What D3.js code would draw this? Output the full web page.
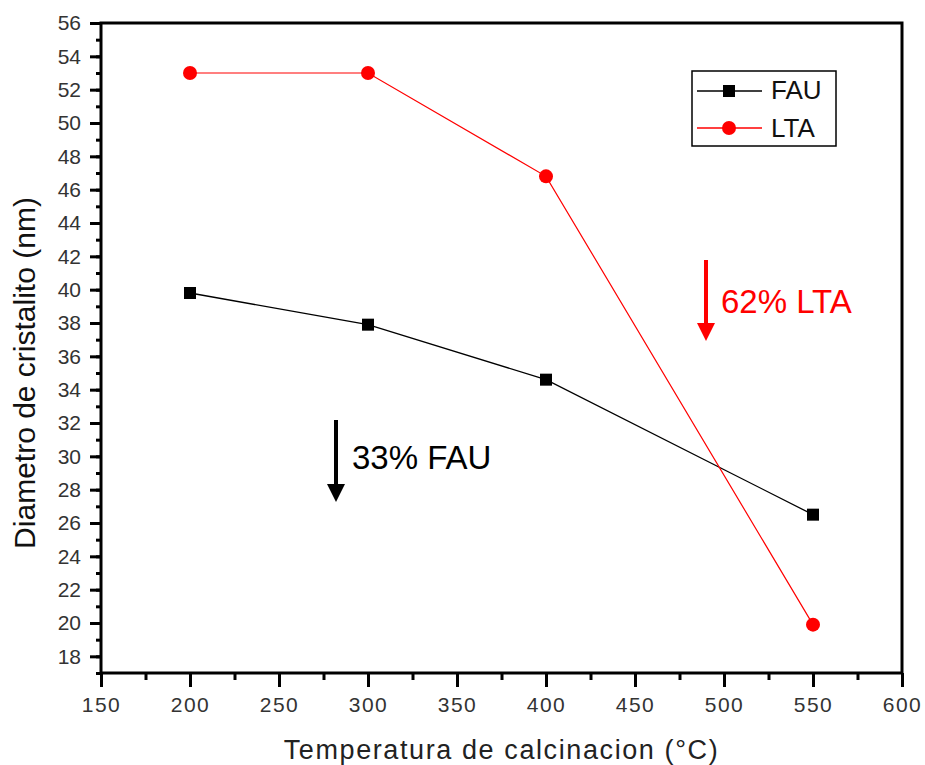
<!DOCTYPE html>
<html lang="en">
<head>
<meta charset="UTF-8">
<title>Diametro de cristalito</title>
<style>
    body { margin: 0; background: #fff; }
    svg text { font-family: 'Liberation Sans', Arial, sans-serif; }
    .tick text { fill: #333; font-size: 21px; }
</style>
</head>
<body>
<div id="chart"></div>
<script src="https://d3js.org/d3.v7.min.js"></script>
<script>
    const temps = [200, 300, 400, 550];
    const fau = [39.8, 37.9, 34.6, 26.5];
    const lta = [53.0, 53.0, 46.8, 19.9];
    const xTicks = [150, 200, 250, 300, 350, 400, 450, 500, 550, 600];
    const yTicks = d3.range(18, 57, 2);

    const width = 925, height = 765;
    const margin = { top: 23, right: 23, bottom: 92, left: 101 };

    const svg = d3.select("#chart").append("svg")
        .attr("width", width)
        .attr("height", height);

    const x = d3.scaleLinear().domain([150, 600]).range([margin.left, width - margin.right]);
    const y = d3.scaleLinear().domain([17, 56]).range([height - margin.bottom, margin.top]);

    // frame
    svg.append("rect")
        .attr("x", x(150)).attr("y", y(56))
        .attr("width", x(600) - x(150)).attr("height", y(17) - y(56))
        .attr("fill", "none").attr("stroke", "#000").attr("stroke-width", 3);

    // x axis
    const gx = svg.append("g").attr("transform", `translate(0,${y(17)})`);
    gx.call(d3.axisBottom(x).tickValues(d3.range(150, 601, 25)).tickSize(7).tickFormat(""))
        .call(g => g.select(".domain").remove())
        .selectAll("line").attr("stroke-width", 3);
    gx.append("g").call(d3.axisBottom(x).tickValues(xTicks).tickSize(14).tickPadding(10))
        .call(g => g.select(".domain").remove())
        .call(g => g.selectAll("line").attr("stroke-width", 3))
        .call(g => g.selectAll("text").style("letter-spacing", "1.5px"));

    // y axis
    const gy = svg.append("g").attr("transform", `translate(${x(150)},0)`);
    gy.call(d3.axisLeft(y).tickValues(d3.range(17, 57, 1)).tickSize(5).tickFormat(""))
        .call(g => g.select(".domain").remove())
        .selectAll("line").attr("stroke-width", 3);
    gy.append("g").call(d3.axisLeft(y).tickValues(yTicks).tickSize(11).tickPadding(9))
        .call(g => g.select(".domain").remove())
        .call(g => g.selectAll("line").attr("stroke-width", 3));

    // axis titles
    svg.append("text")
        .attr("x", (x(150) + x(600)) / 2)
        .attr("y", 759)
        .attr("text-anchor", "middle")
        .style("font-size", "27px")
        .style("letter-spacing", "1.6px")
        .attr("fill", "#222")
        .text("Temperatura de calcinacion (°C)");

    svg.append("text")
        .attr("transform", `translate(35,${(y(17) + y(56)) / 2 + 25}) rotate(-90)`)
        .attr("text-anchor", "middle")
        .style("font-size", "30px")
        .attr("fill", "#111")
        .text("Diametro de cristalito (nm)");

    const line = d3.line().x((d, i) => x(temps[i])).y(d => y(d));

    // FAU
    svg.append("path").datum(fau).attr("d", line)
        .attr("fill", "none").attr("stroke", "#000").attr("stroke-width", 1.3);
    svg.selectAll(".fau").data(fau).enter().append("rect")
        .attr("x", (d, i) => x(temps[i]) - 6).attr("y", d => y(d) - 6)
        .attr("width", 12).attr("height", 12).attr("fill", "#000");

    // LTA
    svg.append("path").datum(lta).attr("d", line)
        .attr("fill", "none").attr("stroke", "#ff0000").attr("stroke-width", 1.2);
    svg.selectAll(".lta").data(lta).enter().append("circle")
        .attr("cx", (d, i) => x(temps[i])).attr("cy", d => y(d))
        .attr("r", 7).attr("fill", "#ff0000");

    // legend
    const lg = svg.append("g");
    lg.append("rect").attr("x", 692).attr("y", 71).attr("width", 144).attr("height", 75)
        .attr("fill", "#fff").attr("stroke", "#000").attr("stroke-width", 1.5);
    lg.append("line").attr("x1", 697).attr("x2", 762).attr("y1", 91).attr("y2", 91)
        .attr("stroke", "#000").attr("stroke-width", 1.3);
    lg.append("rect").attr("x", 723).attr("y", 85).attr("width", 12).attr("height", 12).attr("fill", "#000");
    lg.append("text").attr("x", 771).attr("y", 99).style("font-size", "26px").attr("fill", "#111").text("FAU");
    lg.append("line").attr("x1", 697).attr("x2", 762).attr("y1", 128).attr("y2", 128)
        .attr("stroke", "#ff0000").attr("stroke-width", 1.3);
    lg.append("circle").attr("cx", 729).attr("cy", 128).attr("r", 7).attr("fill", "#ff0000");
    lg.append("text").attr("x", 771).attr("y", 137).style("font-size", "26px").attr("fill", "#111").text("LTA");

    // annotations
    function arrow(cx, y1, y2, color) {
        svg.append("line").attr("x1", cx).attr("x2", cx).attr("y1", y1).attr("y2", y2 - 14)
            .attr("stroke", color).attr("stroke-width", 4);
        svg.append("path")
            .attr("d", `M${cx - 9},${y2 - 18}L${cx + 9},${y2 - 18}L${cx},${y2}Z`)
            .attr("fill", color);
    }
    arrow(336, 420, 502, "#000");
    svg.append("text").attr("x", 352).attr("y", 469).style("font-size", "33px").attr("fill", "#000").text("33% FAU");
    arrow(706, 260, 341, "#ff0000");
    svg.append("text").attr("x", 721).attr("y", 313).style("font-size", "33px").attr("fill", "#ff0000").text("62% LTA");
</script>
</body>
</html>
